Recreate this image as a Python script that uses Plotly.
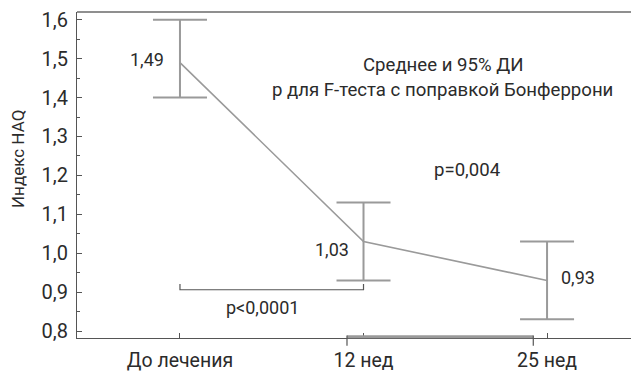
import plotly.graph_objects as go

categories = ["До лечения", "12 нед", "25 нед"]
x_pos = [0, 1, 2]
means = [1.49, 1.03, 0.93]
upper = [1.60, 1.13, 1.03]
lower = [1.40, 0.93, 0.83]
p_main = "p<0,0001"
p_second = "p=0,004"
note_lines = ["Среднее и 95% ДИ", "р для F-теста с поправкой Бонферрони"]
y_title = "Индекс HAQ"

FONT = "Roboto, Liberation Sans Narrow, Arial, sans-serif"
TXT = "#2b2b2b"
GRAY = "#9a9a9a"
AX = "#555555"

X_RANGE = [-0.561, 2.501]
Y_RANGE = [0.782, 1.62]


def xpaper(v):
    return (v - X_RANGE[0]) / (X_RANGE[1] - X_RANGE[0])


err_plus = [u - m for u, m in zip(upper, means)]
err_minus = [m - l for m, l in zip(means, lower)]

fig = go.Figure()
fig.add_trace(go.Scatter(
    x=x_pos, y=means, mode="lines",
    line=dict(color=GRAY, width=1.6),
    error_y=dict(type="data", symmetric=False, array=err_plus, arrayminus=err_minus,
                 color=GRAY, thickness=2, width=27),
    showlegend=False, hoverinfo="skip",
))

# value labels
shifts = [(-14, 3), (-13, -8), (12, 3)]
anchors = ["right", "right", "left"]
for xi, m, (dx, dy), anc in zip(x_pos, means, shifts, anchors):
    fig.add_annotation(x=xi, y=m, text=f"{m:.2f}".replace(".", ","), showarrow=False,
                       xanchor=anc, yanchor="middle", xshift=dx, yshift=dy,
                       font=dict(family=FONT, size=18, color=TXT))

# notes
for txt, yy in zip(note_lines, [1.484, 1.42]):
    fig.add_annotation(x=1.433, y=yy, text=txt, showarrow=False,
                       xanchor="center", yanchor="middle",
                       font=dict(family=FONT, size=18.6, color=TXT))
fig.add_annotation(x=1.565, y=1.214, text=p_second, showarrow=False,
                   xanchor="center", yanchor="middle",
                   font=dict(family=FONT, size=18.6, color=TXT))
fig.add_annotation(x=0.45, y=0.86, text=p_main, showarrow=False,
                   xanchor="center", yanchor="middle",
                   font=dict(family=FONT, size=18, color=TXT))

# bracket p<0.0001 between 0 and 1
fig.add_shape(type="path", xref="x", yref="y",
              path=f"M {x_pos[0]},0.921 L {x_pos[0]},0.906 L {x_pos[1]},0.906 L {x_pos[1]},0.921",
              line=dict(color=AX, width=1.2))

# bracket at bottom between 12 and 25 weeks (over the axis, ends below it)
bx0, bx1 = xpaper(0.91), xpaper(1.925)
fig.add_shape(type="line", xref="paper", yref="paper", x0=bx0, x1=bx1, y0=0.004, y1=0.004,
              line=dict(color=GRAY, width=3))
for bx in (bx0, bx1):
    fig.add_shape(type="line", xref="paper", yref="paper", x0=bx, x1=bx, y0=0.008, y1=-0.024,
                  line=dict(color=AX, width=1.2))

# top frame line
fig.add_shape(type="line", xref="paper", yref="paper", x0=0, x1=1, y0=1, y1=1,
              line=dict(color="#6a6a6a", width=1.6))

fig.add_annotation(xref="paper", yref="paper", x=-0.105, y=0.549, text=y_title,
                   textangle=-90, showarrow=False, xanchor="center", yanchor="middle",
                   font=dict(family=FONT, size=17, color=TXT))

fig.update_layout(
    width=631, height=366,
    margin=dict(l=69, r=0, t=4, b=36),
    paper_bgcolor="white", plot_bgcolor="white",
    separators=", ",
    font=dict(family=FONT, size=19, color=TXT),
    xaxis=dict(range=X_RANGE, tickmode="array", tickvals=x_pos, ticktext=categories,
               showgrid=False, zeroline=False, showline=True, linecolor=AX, linewidth=1.2,
               ticks="inside", ticklen=5, tickcolor=AX, tickwidth=1,
               ticklabelstandoff=4, ticklabeloverflow="allow",
               tickfont=dict(family=FONT, size=19.5, color=TXT)),
    yaxis=dict(range=Y_RANGE, tickmode="linear", tick0=0.8, dtick=0.1, tickformat=".1f",
               showgrid=False, zeroline=False, showline=True, linecolor=AX, linewidth=1.2,
               ticks="inside", ticklen=5, tickcolor=AX, tickwidth=1,
               ticklabelstandoff=4, ticklabeloverflow="allow",
               minor=dict(ticks="inside", ticklen=3, tickcolor=AX, dtick=0.05, tick0=0.8),
               tickfont=dict(family=FONT, size=20, color=TXT)),
)

fig.write_html("out.html")
